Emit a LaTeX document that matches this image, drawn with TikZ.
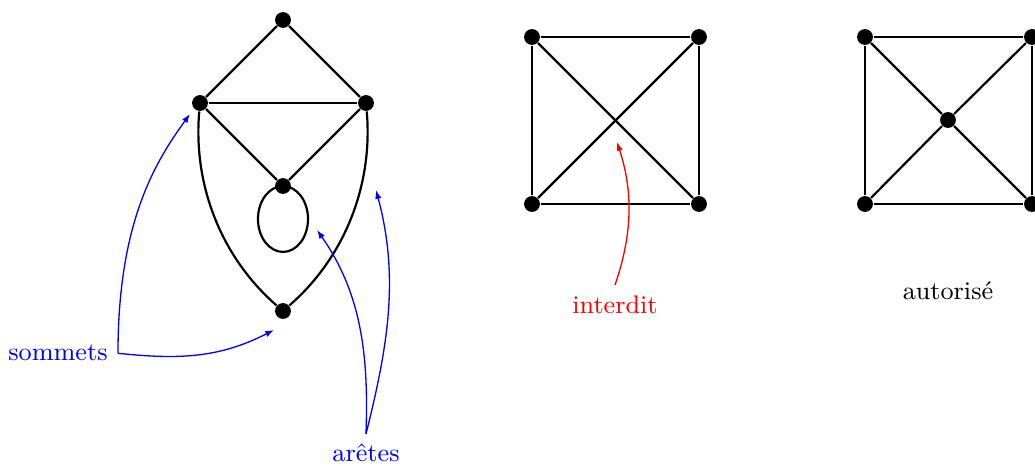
\documentclass[tikz,border=0pt]{standalone}
\usetikzlibrary{arrows.meta}
\begin{document}
\begin{tikzpicture}[x=0.012cm,y=-0.012cm,
  vtx/.style={circle,fill=black,inner sep=0pt,minimum size=0.19cm},
  edge/.style={line width=0.75pt},
  lbl/.style={font=\fontsize{8.7}{10}\selectfont},
  ann/.style={line width=0.45pt,-{Latex[length=3pt,width=2.2pt]}}]
\useasboundingbox (0,0) rectangle (1035,466);
% graph 1
\node[vtx] (T) at (283,20) {};
\node[vtx] (L) at (200,103) {};
\node[vtx] (R) at (366,103) {};
\node[vtx] (M) at (283,186) {};
\node[vtx] (B) at (283,311) {};
\draw[edge] (T) -- (L);
\draw[edge] (T) -- (R);
\draw[edge] (L) -- (R);
\draw[edge] (L) -- (M);
\draw[edge] (R) -- (M);
\draw[edge] (L) to[out=-95,in=139,looseness=0.9] (B);
\draw[edge] (R) to[out=-85,in=41,looseness=0.9] (B);
\coordinate (lc) at (283,219);
\draw[edge] (lc) ellipse [x radius=0.3cm, y radius=0.395cm];
% square 1
\node[vtx] (a1) at (532,37) {};
\node[vtx] (a2) at (699,37) {};
\node[vtx] (a3) at (699,204) {};
\node[vtx] (a4) at (532,204) {};
\draw[edge] (a1) -- (a2);
\draw[edge] (a2) -- (a3);
\draw[edge] (a3) -- (a4);
\draw[edge] (a4) -- (a1);
\draw[edge] (a1) -- (a3);
\draw[edge] (a2) -- (a4);
% square 2
\node[vtx] (b1) at (865,37) {};
\node[vtx] (b2) at (1032,37) {};
\node[vtx] (b3) at (1032,204) {};
\node[vtx] (b4) at (865,204) {};
\node[vtx] (bc) at (948,120) {};
\draw[edge] (b1) -- (b2);
\draw[edge] (b2) -- (b3);
\draw[edge] (b3) -- (b4);
\draw[edge] (b4) -- (b1);
\draw[edge] (b1) -- (bc);
\draw[edge] (bc) -- (b3);
\draw[edge] (b2) -- (bc);
\draw[edge] (bc) -- (b4);
% labels
\node[lbl,text=blue,anchor=base] (som) at (58,361) {sommets};
\node[lbl,text=blue,anchor=base] (are) at (366,462) {arêtes};
\node[lbl,text=red,anchor=base] (int) at (615,313) {interdit};
\node[lbl,anchor=base] (aut) at (948,299) {autorisé};
% annotation tips
\coordinate (tL) at (190,114);
\coordinate (tB) at (274,330);
\coordinate (tLoop) at (317,230);
\coordinate (tR) at (376,190);
\coordinate (tX) at (617,142);
\draw[ann,blue] (som.east) to[out=90,in=-126,out looseness=1.33,in looseness=0.62] (tL);
\draw[ann,blue] (som.east) to[out=-6,in=-153] (tB);
\draw[ann,blue] (are.north) to[out=88,in=-55,looseness=0.95] (tLoop);
\draw[ann,blue] (are.north) to[out=76,in=-75,looseness=0.95] (tR);
\draw[ann,red] (int.north) to[out=71,in=-72,looseness=0.95] (tX);
\end{tikzpicture}
\end{document}
